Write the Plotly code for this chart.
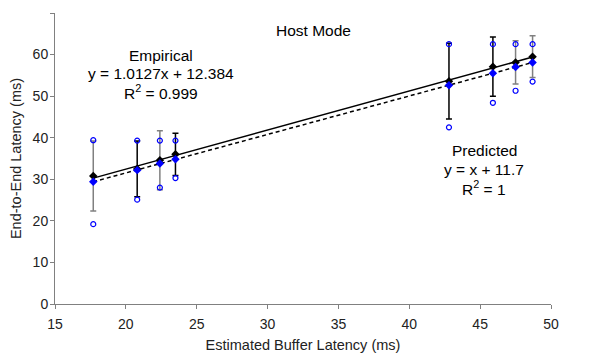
import numpy as np
import plotly.graph_objects as go

# Data
buffer_latency = [17.7, 20.8, 22.4, 23.5, 42.8, 45.9, 47.5, 48.7]
empirical = [30.8, 32.5, 34.6, 36.0, 53.6, 57.1, 58.1, 59.5]
predicted = [29.4, 32.2, 33.8, 34.8, 52.6, 55.5, 57.0, 58.1]
max_latency = [39.4, 39.3, 39.3, 39.3, 62.5, 62.5, 62.5, 62.5]
min_latency = [19.2, 25.1, 28.0, 30.3, 42.5, 48.4, 51.3, 53.5]
error = [8.4, 6.7, 7.1, 5.1, 9.1, 7.1, 5.2, 5.0]
error_grey = [True, False, True, False, False, False, True, True]

x_ticks = [15, 20, 25, 30, 35, 40, 45, 50]
y_ticks = [0, 10, 20, 30, 40, 50, 60, 70]

FONT = "Arial, Liberation Sans, sans-serif"
OFF = 8  # page body margin
W, H = 604 - OFF, 353 - OFF
Lr, Rr, Tr, Br = 55, 551, 13, 304  # plot area in screenshot pixels

fig = go.Figure()

# error bars, split by colour
for grey in (True, False):
    idx = [i for i, g in enumerate(error_grey) if g == grey]
    fig.add_trace(go.Scatter(
        x=[buffer_latency[i] for i in idx],
        y=[empirical[i] for i in idx],
        mode="markers",
        marker=dict(size=1, color="rgba(0,0,0,0)"),
        error_y=dict(type="data", array=[error[i] for i in idx], visible=True,
                     color="#808080" if grey else "#000000",
                     thickness=1.5, width=3),
        showlegend=False, hoverinfo="skip"))

# trend lines computed from the plotted data
xs = np.array([min(buffer_latency), max(buffer_latency)])
pe = np.polyfit(buffer_latency, empirical, 1)
pp = np.polyfit(buffer_latency, predicted, 1)
fig.add_trace(go.Scatter(x=xs, y=np.polyval(pe, xs), mode="lines",
                         line=dict(color="black", width=1.5), showlegend=False))
fig.add_trace(go.Scatter(x=xs, y=np.polyval(pp, xs), mode="lines",
                         line=dict(color="black", width=1.5, dash="4px,3px"), showlegend=False))

# min / max open circles
for arr in (max_latency, min_latency):
    fig.add_trace(go.Scatter(x=buffer_latency, y=arr, mode="markers",
                             marker=dict(symbol="circle-open", size=5, color="#0000FF",
                                         line=dict(width=1.2, color="#0000FF")),
                             showlegend=False))

fig.add_trace(go.Scatter(x=buffer_latency, y=empirical, mode="markers",
                         marker=dict(symbol="diamond", size=6.5, color="black"),
                         showlegend=False))
fig.add_trace(go.Scatter(x=buffer_latency, y=predicted, mode="markers",
                         marker=dict(symbol="diamond", size=6.5, color="#0000FF"),
                         showlegend=False))


def px_to_paper(px, py):
    return (px - Lr) / (Rr - Lr), (Br - py) / (Br - Tr)


annots = [
    ("Host Mode", 313.7, 30),
    ("Empirical", 160.5, 55.7),
    ("y = 1.0127x + 12.384", 160.5, 73.5),
    ("R<sup>2</sup> = 0.999", 160.5, 92),
    ("Predicted", 484, 150.7),
    ("y = x + 11.7", 484, 169.5),
    ("R<sup>2</sup> = 1", 484, 188),
]
for text, px, py in annots:
    ax, ay = px_to_paper(px, py)
    fig.add_annotation(text=text, x=ax, y=ay, xref="paper", yref="paper",
                       showarrow=False, xanchor="center", yanchor="middle",
                       font=dict(family=FONT, size=15.5, color="black"))

axis_common = dict(showline=True, linecolor="#808080", linewidth=1,
                   ticks="outside", ticklen=4, tickcolor="#808080", tickwidth=1,
                   showgrid=False, zeroline=False, automargin=False,
                   tickfont=dict(family=FONT, size=14, color="#222222"))

fig.update_xaxes(range=[15, 50], tickvals=x_ticks, ticktext=[str(v) for v in x_ticks],
                 ticklabelstandoff=3,
                 title=dict(text="Estimated Buffer Latency (ms)",
                            font=dict(family=FONT, size=14.5, color="#222222")),
                 **axis_common)
fig.update_yaxes(range=[0, 70], tickvals=y_ticks, ticktext=[str(v) for v in y_ticks],
                 ticklabelstandoff=-1,
                 title=dict(text="End-to-End Latency (ms)",
                            font=dict(family=FONT, size=14.5, color="#222222")),
                 **axis_common)

fig.update_layout(width=W, height=H,
                  margin=dict(l=Lr - OFF, r=W - (Rr - OFF), t=Tr - OFF, b=H - (Br - OFF)),
                  paper_bgcolor="white", plot_bgcolor="white",
                  font=dict(family=FONT))

fig.write_html("out.html")
